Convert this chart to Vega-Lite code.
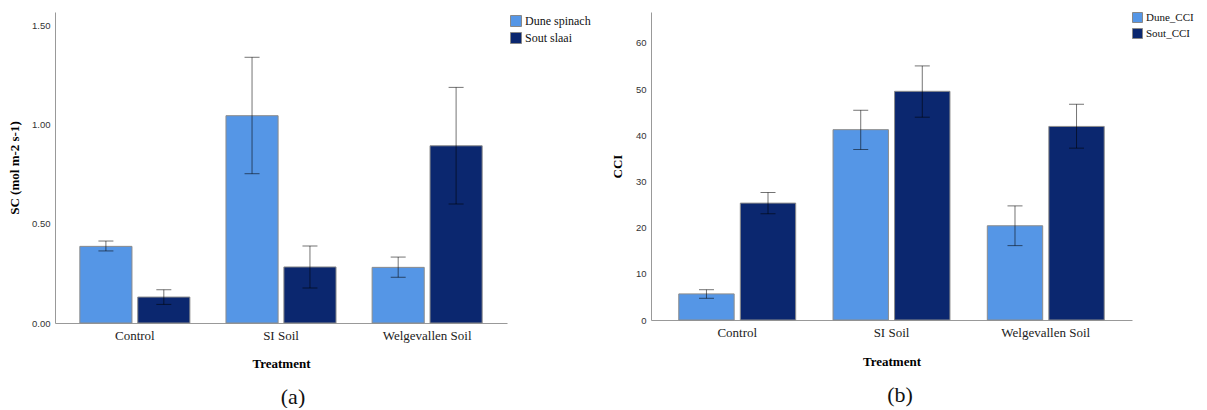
{
  "$schema": "https://vega.github.io/schema/vega-lite/v6.json",
  "background": "white",
  "padding": {"left": 8, "top": 12, "right": 0, "bottom": 0},
  "bounds": "flush",
  "spacing": 144,
  "resolve": {"scale": {"color": "independent", "x": "independent", "y": "independent", "xOffset": "independent"}, "legend": {"color": "independent"}, "axis": {"x": "independent", "y": "independent"}},
  "config": {
    "view": {"stroke": null},
    "font": "Liberation Serif",
    "axisY": {"grid": false, "ticks": false, "labelFont": "Liberation Sans", "labelFontSize": 9.5, "labelColor": "#333", "labelPadding": 5, "domainColor": "#999", "titleFont": "Liberation Serif", "titleFontSize": 13, "titleFontWeight": "bold", "titleColor": "#000", "titleBaseline": "alphabetic"},
    "axisX": {"grid": false, "ticks": false, "labelAngle": 0, "labelFont": "Liberation Serif", "labelFontSize": 13, "labelColor": "#222", "labelPadding": 6, "domainColor": "#999", "titleFont": "Liberation Serif", "titleFontSize": 13, "titleFontWeight": "bold", "titleColor": "#000", "titleBaseline": "alphabetic"},
    "legend": {"orient": "none", "symbolType": "square", "symbolStrokeColor": "#888", "symbolStrokeWidth": 1, "symbolOpacity": 1, "labelFont": "Liberation Serif", "labelColor": "#111", "rowPadding": 1, "labelOffset": 3, "padding": 0},
    "title": {"font": "Liberation Serif", "fontSize": 22, "fontWeight": "normal", "color": "#111", "orient": "bottom"}
  },
  "hconcat": [
    {
      "width": 452,
      "height": 311,
      "title": {"text": "(a)", "dx": 12, "offset": 17},
      "data": {"values": [
        {"treatment": "Control", "species": "Dune spinach", "value": 0.387, "lo": 0.364, "hi": 0.414},
        {"treatment": "Control", "species": "Sout slaai", "value": 0.131, "lo": 0.094, "hi": 0.168},
        {"treatment": "SI Soil", "species": "Dune spinach", "value": 1.047, "lo": 0.754, "hi": 1.342},
        {"treatment": "SI Soil", "species": "Sout slaai", "value": 0.283, "lo": 0.177, "hi": 0.389},
        {"treatment": "Welgevallen Soil", "species": "Dune spinach", "value": 0.281, "lo": 0.231, "hi": 0.333},
        {"treatment": "Welgevallen Soil", "species": "Sout slaai", "value": 0.895, "lo": 0.601, "hi": 1.19}
      ]},
      "encoding": {
        "x": {"field": "treatment", "type": "nominal", "scale": {"type": "band", "domain": ["Control", "SI Soil", "Welgevallen Soil"], "paddingInner": 0.247, "paddingOuter": 0.17}, "axis": {"title": "Treatment", "titleY": 44}},
        "xOffset": {"field": "species", "type": "nominal", "scale": {"type": "band", "domain": ["Dune spinach", "Sout slaai"], "paddingInner": 0.1, "paddingOuter": 0}}
      },
      "layer": [
        {
          "mark": {"type": "bar", "stroke": "#8c8c8c", "strokeWidth": 1},
          "encoding": {
            "y": {"field": "value", "type": "quantitative", "scale": {"domain": [0, 1.5707], "nice": false}, "axis": {"title": "SC (mol m-2 s-1)", "values": [0, 0.5, 1, 1.5], "format": ".2f", "titleX": -37}},
            "color": {"field": "species", "type": "nominal", "scale": {"domain": ["Dune spinach", "Sout slaai"], "range": ["#5596e6", "#0b276f"]}, "legend": {"title": null, "legendX": 455, "legendY": 3, "symbolSize": 121, "labelFontSize": 12}}
          }
        },
        {
          "mark": {"type": "rule", "color": "#000", "opacity": 0.55, "strokeWidth": 1},
          "encoding": {"y": {"field": "lo", "type": "quantitative", "scale": {"domain": [0, 1.5707], "nice": false}}, "y2": {"field": "hi"}}
        },
        {
          "mark": {"type": "tick", "color": "#000", "opacity": 0.55, "size": 15, "thickness": 1},
          "encoding": {"y": {"field": "lo", "type": "quantitative", "scale": {"domain": [0, 1.5707], "nice": false}}}
        },
        {
          "mark": {"type": "tick", "color": "#000", "opacity": 0.55, "size": 15, "thickness": 1},
          "encoding": {"y": {"field": "hi", "type": "quantitative", "scale": {"domain": [0, 1.5707], "nice": false}}}
        }
      ]
    },
    {
      "width": 481,
      "height": 308,
      "title": {"text": "(b)", "dx": 8.5, "offset": 17},
      "data": {"values": [
        {"treatment": "Control", "species": "Dune_CCI", "value": 5.65, "lo": 4.7, "hi": 6.56},
        {"treatment": "Control", "species": "Sout_CCI", "value": 25.3, "lo": 23.0, "hi": 27.6},
        {"treatment": "SI Soil", "species": "Dune_CCI", "value": 41.2, "lo": 36.9, "hi": 45.4},
        {"treatment": "SI Soil", "species": "Sout_CCI", "value": 49.5, "lo": 43.9, "hi": 55.0},
        {"treatment": "Welgevallen Soil", "species": "Dune_CCI", "value": 20.4, "lo": 16.1, "hi": 24.7},
        {"treatment": "Welgevallen Soil", "species": "Sout_CCI", "value": 41.9, "lo": 37.2, "hi": 46.7}
      ]},
      "encoding": {
        "x": {"field": "treatment", "type": "nominal", "scale": {"type": "band", "domain": ["Control", "SI Soil", "Welgevallen Soil"], "paddingInner": 0.242, "paddingOuter": 0.18}, "axis": {"title": "Treatment", "titleY": 45}},
        "xOffset": {"field": "species", "type": "nominal", "scale": {"type": "band", "domain": ["Dune_CCI", "Sout_CCI"], "paddingInner": 0.1, "paddingOuter": 0}}
      },
      "layer": [
        {
          "mark": {"type": "bar", "stroke": "#8c8c8c", "strokeWidth": 1},
          "encoding": {
            "y": {"field": "value", "type": "quantitative", "scale": {"domain": [0, 66.67], "nice": false}, "axis": {"title": "CCI", "values": [0, 10, 20, 30, 40, 50, 60], "format": "d", "titleX": -30}},
            "color": {"field": "species", "type": "nominal", "scale": {"domain": ["Dune_CCI", "Sout_CCI"], "range": ["#5596e6", "#0b276f"]}, "legend": {"title": null, "legendX": 481, "legendY": 0, "symbolSize": 100, "labelFontSize": 11}}
          }
        },
        {
          "mark": {"type": "rule", "color": "#000", "opacity": 0.55, "strokeWidth": 1},
          "encoding": {"y": {"field": "lo", "type": "quantitative", "scale": {"domain": [0, 66.67], "nice": false}}, "y2": {"field": "hi"}}
        },
        {
          "mark": {"type": "tick", "color": "#000", "opacity": 0.55, "size": 15, "thickness": 1},
          "encoding": {"y": {"field": "lo", "type": "quantitative", "scale": {"domain": [0, 66.67], "nice": false}}}
        },
        {
          "mark": {"type": "tick", "color": "#000", "opacity": 0.55, "size": 15, "thickness": 1},
          "encoding": {"y": {"field": "hi", "type": "quantitative", "scale": {"domain": [0, 66.67], "nice": false}}}
        }
      ]
    }
  ]
}
